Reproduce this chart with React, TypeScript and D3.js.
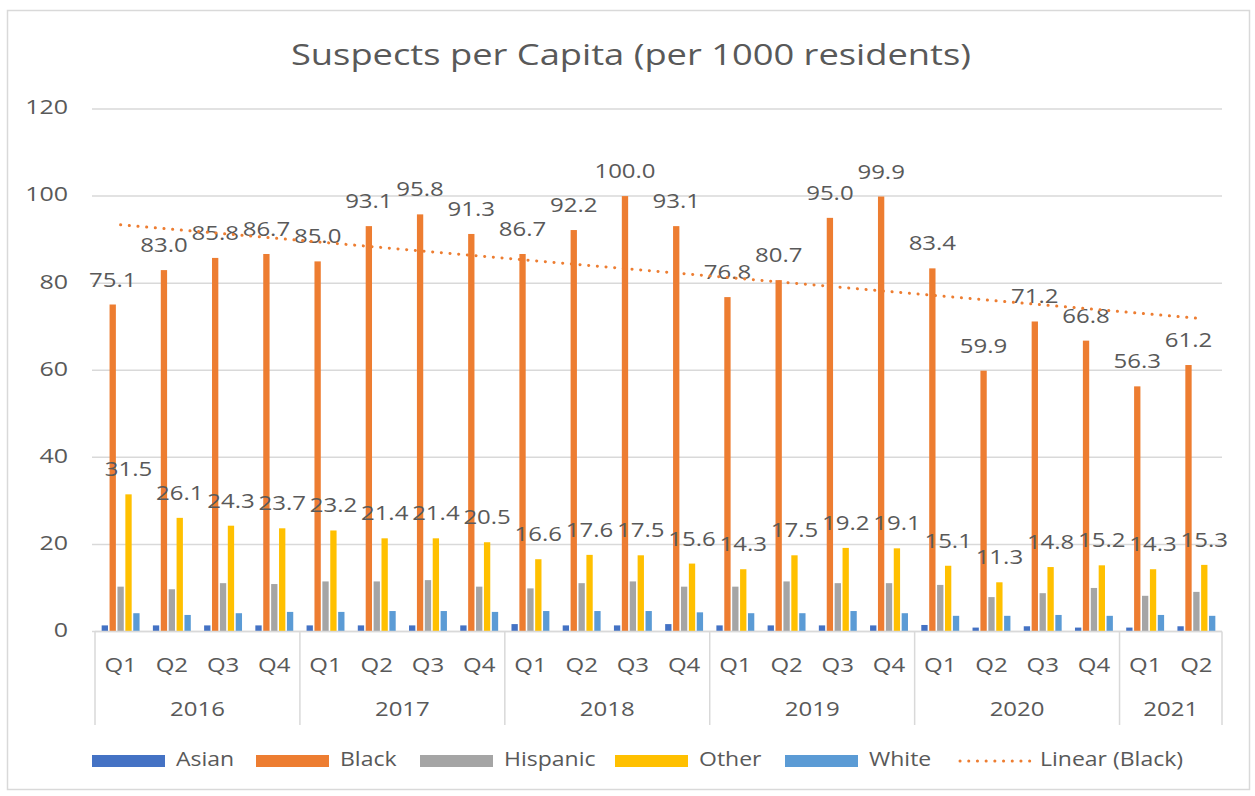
import { useEffect, useRef } from 'react';
import * as d3 from 'd3';

const years = ['2016', '2017', '2018', '2019', '2020', '2021'];
const quartersPerYear = [4, 4, 4, 4, 4, 2];
const quarterNames = ['Q1', 'Q2', 'Q3', 'Q4'];

const seriesNames = ['Asian', 'Black', 'Hispanic', 'Other', 'White'];
const seriesColors = ['#4472C4', '#ED7D31', '#A5A5A5', '#FFC000', '#5B9BD5'];

const asian = [1.4, 1.4, 1.4, 1.4, 1.4, 1.4, 1.4, 1.4, 1.7, 1.4, 1.4, 1.7, 1.4, 1.4, 1.4, 1.4, 1.5, 0.9, 1.2, 0.9, 0.9, 1.2];
const black = [75.1, 83.0, 85.8, 86.7, 85.0, 93.1, 95.8, 91.3, 86.7, 92.2, 100.0, 93.1, 76.8, 80.7, 95.0, 99.9, 83.4, 59.9, 71.2, 66.8, 56.3, 61.2];
const hispanic = [10.3, 9.7, 11.1, 10.9, 11.5, 11.5, 11.8, 10.3, 9.9, 11.1, 11.5, 10.3, 10.3, 11.5, 11.1, 11.1, 10.7, 7.9, 8.8, 10.0, 8.2, 9.1];
const other = [31.5, 26.1, 24.3, 23.7, 23.2, 21.4, 21.4, 20.5, 16.6, 17.6, 17.5, 15.6, 14.3, 17.5, 19.2, 19.1, 15.1, 11.3, 14.8, 15.2, 14.3, 15.3];
const white = [4.2, 3.8, 4.2, 4.5, 4.5, 4.7, 4.7, 4.5, 4.7, 4.7, 4.7, 4.4, 4.2, 4.2, 4.7, 4.2, 3.6, 3.6, 3.8, 3.6, 3.8, 3.6];

const yTicks = [0, 20, 40, 60, 80, 100, 120];

export default function App() {
  const svgRef = useRef<SVGSVGElement>(null);

  useEffect(() => {
    const svg = d3.select(svgRef.current);
    svg.selectAll('*').remove();

    const W = 1255, H = 796;
    const font = '"Open Sans", sans-serif';
    const textColor = '#595959';
    const gridColor = '#d9d9d9';
    const left = 95, right = 1222, top = 109, bottom = 631.5;

    svg.attr('width', W).attr('height', H);

    // text is a bit wider than tall in the original, so stretch horizontally
    const label = (x: number, yy: number, txt: string, size: number, sx: number, anchor = 'middle', baseline = 'middle') =>
      svg.append('text')
        .attr('transform', `translate(${x},${yy}) scale(${sx},1)`)
        .attr('text-anchor', anchor).attr('dominant-baseline', baseline)
        .attr('font-family', font).attr('font-size', size).attr('fill', textColor)
        .text(txt);

    svg.append('rect').attr('x', 0).attr('y', 0).attr('width', W).attr('height', H).attr('fill', '#fff');
    svg.append('rect')
      .attr('x', 7.5).attr('y', 10.5).attr('width', 1242).attr('height', 779)
      .attr('fill', 'none').attr('stroke', gridColor).attr('stroke-width', 1.5);

    // categories
    const cats: { key: string; year: string; q: string }[] = [];
    years.forEach((y, i) => {
      for (let k = 0; k < quartersPerYear[i]; k++) cats.push({ key: `${y}-${quarterNames[k]}`, year: y, q: quarterNames[k] });
    });
    const values = [asian, black, hispanic, other, white];

    const x0 = d3.scaleBand().domain(cats.map(c => c.key)).range([left, right]).paddingInner(0.26).paddingOuter(0.13);
    const x1 = d3.scaleBand().domain(seriesNames).range([0, x0.bandwidth()]).paddingInner(0.2);
    const xc = d3.scaleBand().domain(cats.map(c => c.key)).range([left, right]);
    const y = d3.scaleLinear().domain([0, 120]).range([bottom, top]);

    // title
    label(631, 57, 'Suspects per Capita (per 1000 residents)', 30, 1.21);

    // grid + y labels
    yTicks.forEach(t => {
      svg.append('line')
        .attr('x1', 92).attr('x2', right).attr('y1', y(t)).attr('y2', y(t))
        .attr('stroke', gridColor).attr('stroke-width', 1.5);
      label(68, y(t), String(t), 20, 1.25, 'end');
    });

    // bars
    const g = svg.append('g');
    cats.forEach((c, ci) => {
      seriesNames.forEach((s, si) => {
        const v = values[si][ci];
        g.append('rect')
          .attr('x', (x0(c.key) ?? 0) + (x1(s) ?? 0))
          .attr('y', y(v))
          .attr('width', x1.bandwidth())
          .attr('height', y(0) - y(v))
          .attr('fill', seriesColors[si]);
      });
    });

    // data labels for Black and Other
    [1, 3].forEach(si => {
      cats.forEach((c, ci) => {
        const v = values[si][ci];
        const cx = (x0(c.key) ?? 0) + (x1(seriesNames[si]) ?? 0) + x1.bandwidth() / 2;
        label(cx, y(v) - 18, v.toFixed(1), 20, 1.2, 'middle', 'alphabetic');
      });
    });

    // linear trend of Black
    const idx = black.map((_, i) => i);
    const mx = d3.mean(idx) ?? 0;
    const my = d3.mean(black) ?? 0;
    const slope = d3.sum(idx, i => (i - mx) * (black[i] - my)) / d3.sum(idx, i => (i - mx) ** 2);
    const icpt = my - slope * mx;
    const xAt = (i: number) => (xc(cats[i].key) ?? 0) + xc.bandwidth() / 2;
    const last = cats.length - 1;
    svg.append('line')
      .attr('x1', xAt(0)).attr('y1', y(icpt))
      .attr('x2', xAt(last)).attr('y2', y(icpt + slope * last))
      .attr('stroke', '#ED7D31').attr('stroke-width', 3)
      .attr('stroke-linecap', 'round').attr('stroke-dasharray', '0.1 8.6');

    // x axis
    svg.append('line')
      .attr('x1', left).attr('x2', right).attr('y1', bottom).attr('y2', bottom)
      .attr('stroke', gridColor).attr('stroke-width', 1.5);
    cats.forEach(c => {
      label((xc(c.key) ?? 0) + xc.bandwidth() / 2, 667, c.q, 20, 1.2);
    });
    let start = 0;
    years.forEach((yr, i) => {
      const n = quartersPerYear[i];
      const xs = xc(cats[start].key) ?? 0;
      const xe = (xc(cats[start + n - 1].key) ?? 0) + xc.bandwidth();
      svg.append('line')
        .attr('x1', xs).attr('x2', xs).attr('y1', bottom).attr('y2', 725)
        .attr('stroke', gridColor).attr('stroke-width', 1.5);
      if (i === years.length - 1) {
        svg.append('line')
          .attr('x1', xe).attr('x2', xe).attr('y1', bottom).attr('y2', 725)
          .attr('stroke', gridColor).attr('stroke-width', 1.5);
      }
      label((xs + xe) / 2, 711, yr, 20, 1.2);
      start += n;
    });

    // legend
    const legendX = [92, 256, 420, 615, 785];
    seriesNames.forEach((s, i) => {
      svg.append('rect')
        .attr('x', legendX[i]).attr('y', 755).attr('width', 73).attr('height', 12)
        .attr('fill', seriesColors[i]);
      label(legendX[i] + 84, 761, s, 20, 1.15, 'start');
    });
    svg.append('line')
      .attr('x1', 960).attr('x2', 1030).attr('y1', 761).attr('y2', 761)
      .attr('stroke', '#ED7D31').attr('stroke-width', 3)
      .attr('stroke-linecap', 'round').attr('stroke-dasharray', '0.1 8.6');
    label(1040, 761, 'Linear (Black)', 20, 1.15, 'start');
  }, []);

  return (
    <svg
      ref={svgRef}
      style={{ position: 'absolute', left: 0, top: 0, display: 'block' }}
      aria-label="Suspects per Capita (per 1000 residents)"
      role="img"
    />
  );
}
